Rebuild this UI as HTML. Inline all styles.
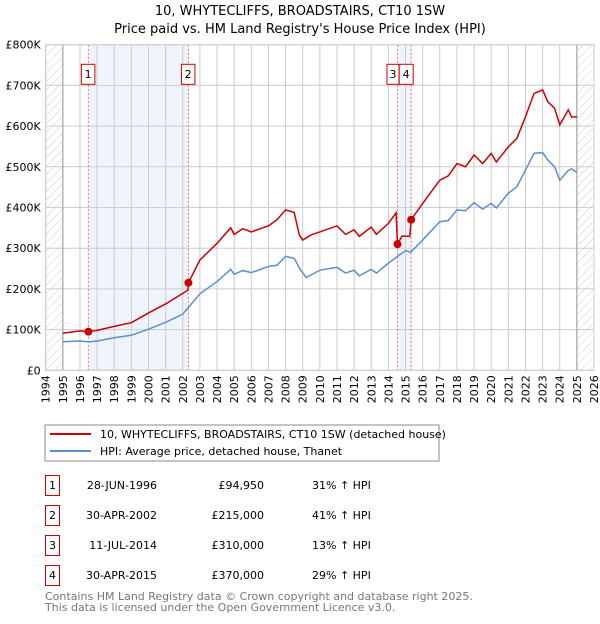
<!DOCTYPE html>
<html><head><meta charset="utf-8"><style>
body{margin:0;background:#fff;font-family:"DejaVu Sans","Liberation Sans",sans-serif;}
svg text{font-family:"DejaVu Sans","Liberation Sans",sans-serif;}
</style></head><body>
<svg id="c" width="600" height="620" xmlns="http://www.w3.org/2000/svg">
<defs><pattern id="hatch" width="6" height="6" patternUnits="userSpaceOnUse" patternTransform="rotate(45)"><line x1="0" y1="0" x2="0" y2="6" stroke="#ccc" stroke-width="1"/></pattern></defs>
<text x="300" y="15" text-anchor="middle" font-size="13">10, WHYTECLIFFS, BROADSTAIRS, CT10 1SW</text>
<text x="300" y="33" text-anchor="middle" font-size="13">Price paid vs. HM Land Registry's House Price Index (HPI)</text>
<g id="plot"></g>
<rect x="45" y="425" width="394" height="36" fill="#fff" stroke="#888"/>
<line x1="50" y1="434" x2="91" y2="434" stroke="#cc0000" stroke-width="2"/>
<text x="100" y="438" font-size="11">10, WHYTECLIFFS, BROADSTAIRS, CT10 1SW (detached house)</text>
<line x1="50" y1="451" x2="91" y2="451" stroke="#5b8fd4" stroke-width="2"/>
<text x="100" y="455" font-size="11">HPI: Average price, detached house, Thanet</text>
<g id="table" font-size="11"></g>
<text x="45" y="600" font-size="11" fill="#777">Contains HM Land Registry data © Crown copyright and database right 2025.</text>
<text x="45" y="611" font-size="11" fill="#777">This data is licensed under the Open Government Licence v3.0.</text>
</svg>
<script>
const yearTicks=[1994,1995,1996,1997,1998,1999,2000,2001,2002,2003,2004,2005,2006,2007,2008,2009,2010,2011,2012,2013,2014,2015,2016,2017,2018,2019,2020,2021,2022,2023,2024,2025,2026];
const valueTicks=[0,100000,200000,300000,400000,500000,600000,700000,800000];
const valueLabels=["£0","£100K","£200K","£300K","£400K","£500K","£600K","£700K","£800K"];
const hpiDates=[1995,1996,1996.5,1997,1998,1999,2000,2001,2002,2003,2004,2004.8,2005,2005.5,2006,2007,2007.5,2008,2008.5,2008.9,2009.2,2010,2011,2011.5,2012,2012.3,2013,2013.3,2014,2014.5,2015,2015.3,2016,2017,2017.5,2018,2018.5,2019,2019.5,2020,2020.3,2021,2021.5,2022,2022.5,2023,2023.3,2023.7,2024,2024.5,2024.7,2025];
const hpiValues=[70000,72000,70000,72000,80000,86000,101000,118000,138000,188000,218000,248000,236000,245000,240000,255000,258000,280000,275000,245000,228000,246000,253000,239000,246000,232000,248000,239000,263000,279000,294000,290000,320000,365000,368000,394000,392000,412000,396000,410000,399000,435000,451000,492000,533000,535000,517000,500000,467000,491000,495000,486000];
const propDates=[1995,1996,1996.49,1997,1998,1999,2000,2001,2002,2002.3,2002.33,2003,2004,2004.8,2005,2005.5,2006,2007,2007.5,2008,2008.5,2008.8,2009,2009.5,2010,2011,2011.5,2012,2012.3,2013,2013.3,2014,2014.45,2014.53,2014.8,2015.25,2015.33,2016,2017,2017.5,2018,2018.5,2019,2019.5,2020,2020.3,2021,2021.5,2022,2022.5,2023,2023.3,2023.7,2024,2024.5,2024.7,2025];
const propValues=[91000,97000,94950,98000,108000,117000,141000,163000,189000,197000,215000,271000,312000,350000,334000,348000,340000,355000,370000,394000,388000,333000,320000,333000,340000,355000,334000,345000,329000,352000,334000,361000,387000,310000,330000,329000,370000,410000,467000,478000,508000,500000,529000,508000,533000,512000,549000,570000,623000,680000,689000,660000,644000,603000,640000,622000,623000];
const saleLabels=["1","2","3","4"];
const saleDates=[1996.49,2002.33,2014.53,2015.33];
const saleValues=[94950,215000,310000,370000];
const saleDateText=["28-JUN-1996","30-APR-2002","11-JUL-2014","30-APR-2015"];
const salePriceText=["£94,950","£215,000","£310,000","£370,000"];
const saleHpiText=["31% ↑ HPI","41% ↑ HPI","13% ↑ HPI","29% ↑ HPI"];

const NS="http://www.w3.org/2000/svg";
const L=45.7,R=594,T=44.7,B=370.3;
const x=d=>L+(d-1994)/(2026-1994)*(R-L);
const y=v=>B-v/800000*(B-T);
const g=document.getElementById('plot');
function mk(tag,attrs,parent){const e=document.createElementNS(NS,tag);for(const k in attrs)e.setAttribute(k,attrs[k]);(parent||g).appendChild(e);return e;}
let e;
e=mk('rect',{x:L,y:T,width:R-L,height:B-T,fill:'#fff'});


e=mk('rect',{x:x(saleDates[0]),y:T,width:x(saleDates[1])-x(saleDates[0]),height:B-T,fill:'#eef3fc'});


e=mk('rect',{x:x(saleDates[2]),y:T,width:x(saleDates[3])-x(saleDates[2]),height:B-T,fill:'#eef3fc'});


e=mk('rect',{x:L,y:T,width:x(1995)-L,height:B-T,fill:'url(#hatch)'});


e=mk('rect',{x:x(2025),y:T,width:R-x(2025),height:B-T,fill:'url(#hatch)'});


yearTicks.forEach(yr=>{
  e=mk('line',{x1:x(yr),y1:T,x2:x(yr),y2:B,stroke:'#ccc','stroke-width':1});
  
  
  e=mk('text',{x:0,y:0,'font-size':11,'text-anchor':'end',transform:`translate(${x(yr)+4},${B+5}) rotate(-90)`});
  e.textContent=yr;
  
  
});
valueTicks.forEach((v,i)=>{
  e=mk('line',{x1:L,y1:y(v),x2:R,y2:y(v),stroke:'#ccc','stroke-width':1});
  
  
  e=mk('text',{x:L-5,y:y(v)+4,'font-size':11,'text-anchor':'end'});
  e.textContent=valueLabels[i];
  
  
});
[1995,2025].forEach(yr=>{
  e=mk('line',{x1:x(yr),y1:T,x2:x(yr),y2:B,stroke:'#999','stroke-width':1});
  
  
});
saleDates.forEach((d,i)=>{
  e=mk('line',{x1:x(d),y1:T,x2:x(d),y2:B,stroke:'#f07070','stroke-width':1,'stroke-dasharray':'2,2'});
  
  
});
e=mk('polyline',{points:hpiDates.map((d,i)=>x(d)+','+y(hpiValues[i])).join(' '),fill:'none',stroke:'#5b8fd4','stroke-width':1.5});


e=mk('polyline',{points:propDates.map((d,i)=>x(d)+','+y(propValues[i])).join(' '),fill:'none',stroke:'#cc0000','stroke-width':1.5});


saleDates.forEach((d,i)=>{
  e=mk('circle',{cx:x(d),cy:y(saleValues[i]),r:4,fill:'#cc0000'});
  
  
  let bx=x(d)-7, bw=13.5;
  if(i===2){bx=x(d)-10.5; bw=12;}
  if(i===3){bx=x(d)-12; bw=14;}
  e=mk('rect',{x:bx,y:64.3,width:bw,height:20,fill:'#fff',stroke:'#cc0000'});
  
  
  e=mk('text',{x:bx+bw/2,y:78,'font-size':11,'text-anchor':'middle'});
  e.textContent=saleLabels[i];
  
  
});
e=mk('rect',{x:L,y:T,width:R-L,height:B-T,fill:'none',stroke:'#ccc'});


const tb=document.getElementById('table');
saleLabels.forEach((s,i)=>{
  const ry=475+i*30;
  e=mk('rect',{x:45.5,y:ry+0.5,width:14,height:20,fill:'#fff',stroke:'#cc0000'},tb);
  
  
  e=mk('text',{x:52.5,y:ry+14,'text-anchor':'middle'},tb);
  e.textContent=s;
  
  
  e=mk('text',{x:157,y:ry+14,'text-anchor':'end'},tb);
  e.textContent=saleDateText[i];
  
  
  e=mk('text',{x:264,y:ry+14,'text-anchor':'end'},tb);
  e.textContent=salePriceText[i];
  
  
  e=mk('text',{x:312,y:ry+14},tb);
  e.textContent=saleHpiText[i];
  
  
});
</script>
</body></html>
